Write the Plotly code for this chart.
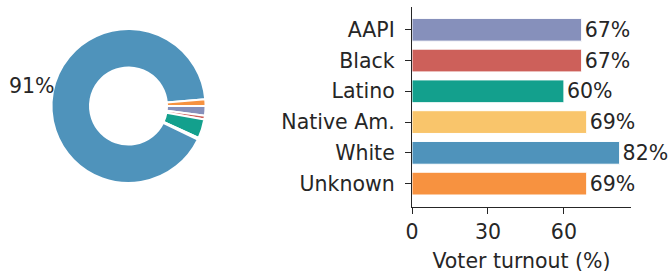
import plotly.graph_objects as go

groups = ["AAPI", "Black", "Latino", "Native Am.", "White", "Unknown"]
share = [2.0, 0.8, 4.0, 0.4, 91.4, 1.4]
turnout = [67, 67, 60, 69, 82, 69]
colors = ["#8690BB", "#CD605A", "#13A08D", "#F9C56B", "#4F93BB", "#F79240"]
xticks = [0, 30, 60]

TXT = "#262626"
FONT = "DejaVu Sans"
FS = 20.5

fig = go.Figure()

fig.add_trace(go.Pie(
    labels=groups, values=share, sort=False, direction="clockwise", rotation=90,
    hole=0.5, marker=dict(colors=colors, line=dict(color="white", width=2)),
    textinfo="none", hoverinfo="label+percent", showlegend=False,
    domain=dict(x=[51.5/670, 205.5/670], y=[(273-183)/273, (273-29)/273]),
))

fig.add_trace(go.Bar(
    y=groups, x=turnout, orientation="h",
    marker=dict(color=colors, line=dict(color="white", width=1)),
    text=[f"{v}%" for v in turnout], textposition="outside",
    textfont=dict(family=FONT, size=FS, color=TXT),
    constraintext="none", cliponaxis=False, showlegend=False,
    xaxis="x", yaxis="y",
))

big = max(range(len(share)), key=lambda i: share[i])
fig.add_annotation(
    text=f"{share[big]:.0f}%", xref="paper", yref="paper",
    x=31.5/670, y=(273-86)/273, showarrow=False,
    font=dict(family=FONT, size=FS, color=TXT), xanchor="center", yanchor="middle",
)

fig.update_layout(
    width=670, height=273, margin=dict(l=0, r=0, t=0, b=0),
    paper_bgcolor="white", plot_bgcolor="white",
    font=dict(family=FONT, size=FS, color=TXT),
    bargap=0.26,
    xaxis=dict(
        domain=[412/670, 631/670], range=[0, 86.5], tickvals=xticks,
        showgrid=False, zeroline=False, showline=True, linecolor=TXT, linewidth=1.3,
        ticks="outside", ticklen=6, tickwidth=1.3, tickcolor=TXT,
        title=dict(text="Voter turnout (%)", font=dict(family=FONT, size=FS, color=TXT), standoff=12),
        tickfont=dict(family=FONT, size=FS, color=TXT), automargin=False, anchor="y",
    ),
    yaxis=dict(
        domain=[(273-207)/273, (273-7)/273], range=[5.76, -0.74],
        showgrid=False, zeroline=False, showline=True, linecolor=TXT, linewidth=1.3,
        ticks="outside", ticklen=6, tickwidth=1.3, tickcolor=TXT,
        tickfont=dict(family=FONT, size=FS, color=TXT), automargin=False, anchor="x",
        ticklabelstandoff=6,
    ),
)

fig.write_html("out.html", config={"displayModeBar": False},
               post_script="document.body.style.margin='0px';document.body.style.overflow='hidden';")
